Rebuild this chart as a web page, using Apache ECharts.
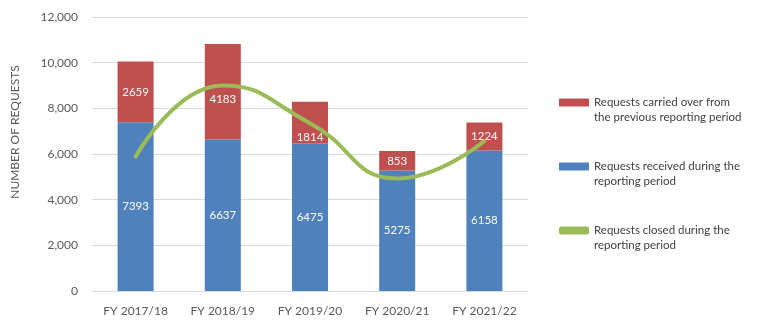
<!DOCTYPE html>
<html>
<head>
<meta charset="utf-8">
<script src="https://cdn.jsdelivr.net/npm/echarts@6/dist/echarts.min.js"></script>
<style>
html,body{margin:0;padding:0;background:#fff;}
#chart{width:759px;height:329px;}
</style>
</head>
<body>
<div id="chart"></div>
<script>
const categories = ['FY 2017/18', 'FY 2018/19', 'FY 2019/20', 'FY 2020/21', 'FY 2021/22'];
const received = [7393, 6637, 6475, 5275, 6158];
const carriedOver = [2659, 4183, 1814, 853, 1224];
const closed = [5880, 9000, 7350, 4930, 6570];
const yTicks = { min: 0, max: 12000, interval: 2000 };
const seriesNames = [
  'Requests carried over from\nthe previous reporting period',
  'Requests received during the\nreporting period',
  'Requests closed during the\nreporting period'
];

const FONT = 'Lato';
// manual label nudges (as in the original chart)
const carriedLabelOffset = { 1: [0, 8], 2: [0, 15] };

const chart = echarts.init(document.getElementById('chart'));
chart.setOption({
  animation: false,
  textStyle: { fontFamily: FONT },
  grid: { left: 92, right: 231, top: 17, bottom: 38 },
  legend: {
    orient: 'vertical',
    left: 559,
    top: 80,
    padding: 0,
    itemWidth: 30,
    itemHeight: 8,
    itemGap: 19,
    data: [
      { name: seriesNames[0], icon: 'rect' },
      { name: seriesNames[1], icon: 'rect' },
      { name: seriesNames[2], icon: 'roundRect' }
    ],
    // leading blank line so the icon sits beside the first text line
    formatter: name => '\n' + name,
    textStyle: { fontFamily: FONT, fontSize: 11.5, color: '#404040', lineHeight: 15 }
  },
  xAxis: {
    type: 'category',
    data: categories,
    axisLine: { lineStyle: { color: '#D9D9D9' } },
    axisTick: { show: false },
    axisLabel: { fontFamily: FONT, fontSize: 12, color: '#595959', margin: 14 }
  },
  yAxis: {
    type: 'value',
    min: yTicks.min, max: yTicks.max, interval: yTicks.interval,
    name: 'NUMBER OF REQUESTS',
    nameLocation: 'middle',
    nameGap: 71,
    nameTextStyle: { fontFamily: FONT, fontSize: 12, color: '#595959', padding: [0, 0, 0, 44] },
    axisLine: { show: false },
    axisTick: { show: false },
    splitLine: { lineStyle: { color: '#D9D9D9' } },
    axisLabel: {
      fontFamily: FONT, fontSize: 12, color: '#595959', margin: 14,
      formatter: v => v.toLocaleString('en-US')
    }
  },
  series: [
    {
      name: seriesNames[1],
      type: 'bar',
      stack: 'req',
      barWidth: 36,
      data: received,
      itemStyle: { color: '#4F81BD' },
      label: { show: true, position: 'inside', color: '#fff', fontFamily: FONT, fontSize: 11.5 }
    },
    {
      name: seriesNames[0],
      type: 'bar',
      stack: 'req',
      barWidth: 36,
      data: carriedOver.map((v, i) => carriedLabelOffset[i] ? { value: v, label: { offset: carriedLabelOffset[i] } } : v),
      itemStyle: { color: '#C0504D' },
      label: { show: true, position: 'inside', color: '#fff', fontFamily: FONT, fontSize: 11.5 }
    },
    {
      name: seriesNames[2],
      type: 'line',
      data: closed,
      smooth: 0.5,
      symbol: 'none',
      z: 5,
      lineStyle: { color: '#9BBB59', width: 4, cap: 'round' },
      itemStyle: { color: '#9BBB59' }
    }
  ]
});
</script>
</body>
</html>
